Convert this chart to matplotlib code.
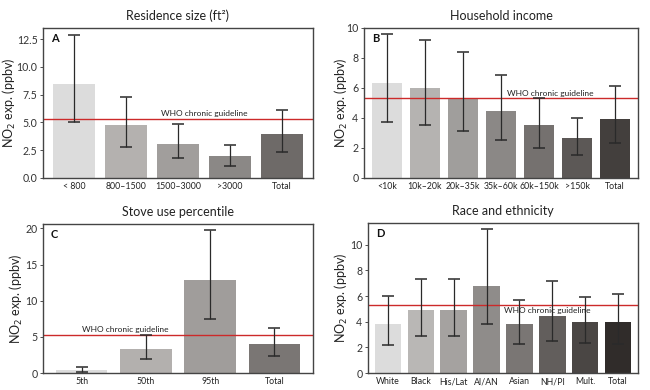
import matplotlib
matplotlib.use("Agg")
import matplotlib.pyplot as plt
import numpy as np

plt.rcParams['font.family'] = ['Lato', 'DejaVu Sans']

# ---- data ----
who_guideline = 5.3

res_labels = ["< 800", "800\u20131500", "1500\u20133000", ">3000", "Total"]
res_mean = [8.5, 4.8, 3.1, 1.95, 4.0]
res_low = [5.0, 2.8, 1.8, 1.1, 2.3]
res_high = [12.9, 7.3, 4.85, 2.95, 6.1]
res_colors = ["#dcdcdc", "#b4b1af", "#a19e9c", "#8b8886", "#6e6a68"]

inc_labels = ["<10k", "10k\u201320k", "20k\u201335k", "35k\u201360k", "60k\u2013150k", ">150k", "Total"]
inc_mean = [6.3, 6.0, 5.35, 4.45, 3.5, 2.65, 3.95]
inc_low = [3.7, 3.5, 3.1, 2.55, 2.0, 1.55, 2.3]
inc_high = [9.6, 9.2, 8.4, 6.85, 5.35, 4.0, 6.15]
inc_colors = ["#dcdcdc", "#b5b3b1", "#a09e9c", "#8b8886", "#75716f", "#5c5856", "#433f3d"]

stove_labels = ["5th", "50th", "95th", "Total"]
stove_mean = [0.47, 3.3, 12.8, 3.95]
stove_low = [0.2, 1.9, 7.4, 2.3]
stove_high = [0.8, 5.2, 19.8, 6.2]
stove_colors = ["#dcdcdc", "#b3b0ae", "#a09d9b", "#7a7674"]

race_labels = ["White", "Black", "His/Lat", "AI/AN", "Asian", "NH/PI", "Mult.", "Total"]
race_mean = [3.85, 4.9, 4.9, 6.8, 3.85, 4.45, 3.95, 4.0]
race_low = [2.2, 2.9, 2.9, 3.8, 2.25, 2.5, 2.35, 2.3]
race_high = [6.0, 7.3, 7.3, 11.2, 5.7, 7.2, 5.95, 6.15]
race_colors = ["#dcdcdc", "#b9b7b5", "#a5a2a0", "#8f8c8a", "#7a7674", "#625e5c", "#4a4644", "#302c2a"]

W, H = 650, 390
fig = plt.figure(figsize=(6.5, 3.9), dpi=100)

def px_axes(l, r, t, b):
    return fig.add_axes([l / W, 1 - b / H, (r - l) / W, (b - t) / H])

panels = [
    dict(box=(43, 313, 28, 178), title="Residence size (ft\u00b2)", letter="A",
         labels=res_labels, mean=res_mean, low=res_low, high=res_high, colors=res_colors,
         ylim=(0, 13.5), yticks=[0, 2.5, 5, 7.5, 10, 12.5], fmt="{:.1f}",
         who_x=2.5, who_va="bottom", labx=-0.094),
    dict(box=(364, 638, 28, 178), title="Household income", letter="B",
         labels=inc_labels, mean=inc_mean, low=inc_low, high=inc_high, colors=inc_colors,
         ylim=(0, 10), yticks=[0, 2, 4, 6, 8, 10], fmt="{:.0f}",
         who_x=4.3, who_va="bottom", labx=-0.051),
    dict(box=(43, 313, 224, 373), title="Stove use percentile", letter="C",
         labels=stove_labels, mean=stove_mean, low=stove_low, high=stove_high, colors=stove_colors,
         ylim=(0, 20.6), yticks=[0, 5, 10, 15, 20], fmt="{:.0f}",
         who_x=0.68, who_va="bottom", labx=-0.067),
    dict(box=(368, 638, 223, 373), title="Race and ethnicity", letter="D",
         labels=race_labels, mean=race_mean, low=race_low, high=race_high, colors=race_colors,
         ylim=(0, 11.7), yticks=[0, 2, 4, 6, 8, 10], fmt="{:.0f}",
         who_x=4.85, who_va="top", labx=-0.067),
]

for p in panels:
    ax = px_axes(*p["box"])
    n = len(p["labels"])
    x = np.arange(n)
    mean = np.array(p["mean"])
    yerr = [mean - np.array(p["low"]), np.array(p["high"]) - mean]
    ax.bar(x, mean, width=0.8, color=p["colors"], zorder=1)
    ax.errorbar(x, mean, yerr=yerr, fmt="none", ecolor="#2a2a2a", elinewidth=0.9,
                capsize=4.5, capthick=1.1, zorder=3)
    ax.axhline(who_guideline, color="#cc2a2a", lw=1.0, zorder=2)
    off = 0.12 if p["who_va"] == "bottom" else -0.15
    ax.text(p["who_x"], who_guideline + off * (p["ylim"][1] / 10), "WHO chronic guideline",
            ha="center", va=p["who_va"], fontsize=6, color="#222222", zorder=4)
    ax.set_xlim(-0.6, n - 0.4)
    ax.set_ylim(*p["ylim"])
    ax.set_yticks(p["yticks"])
    ax.set_yticklabels([p["fmt"].format(v) for v in p["yticks"]], fontsize=7.6, color="#333333")
    ax.set_xticks(x)
    ax.set_xticklabels(p["labels"], fontsize=6.3, color="#222222")
    ax.tick_params(axis="x", length=0, pad=3)
    ax.tick_params(axis="y", length=2, width=0.6, pad=2, colors="#333333")
    for s in ax.spines.values():
        s.set_color("#444444")
        s.set_linewidth(1.0)
    ax.set_title(p["title"], fontsize=9, color="#222222", pad=6)
    ax.set_ylabel("NO$_2$ exp. (ppbv)", fontsize=9, color="#222222")
    ax.yaxis.set_label_coords(p["labx"], 0.5)
    ax.text(0.03, 0.965, p["letter"], transform=ax.transAxes, ha="left", va="top",
            fontsize=8, fontweight="bold", color="#111111")

fig.savefig("out.png", dpi=100)
